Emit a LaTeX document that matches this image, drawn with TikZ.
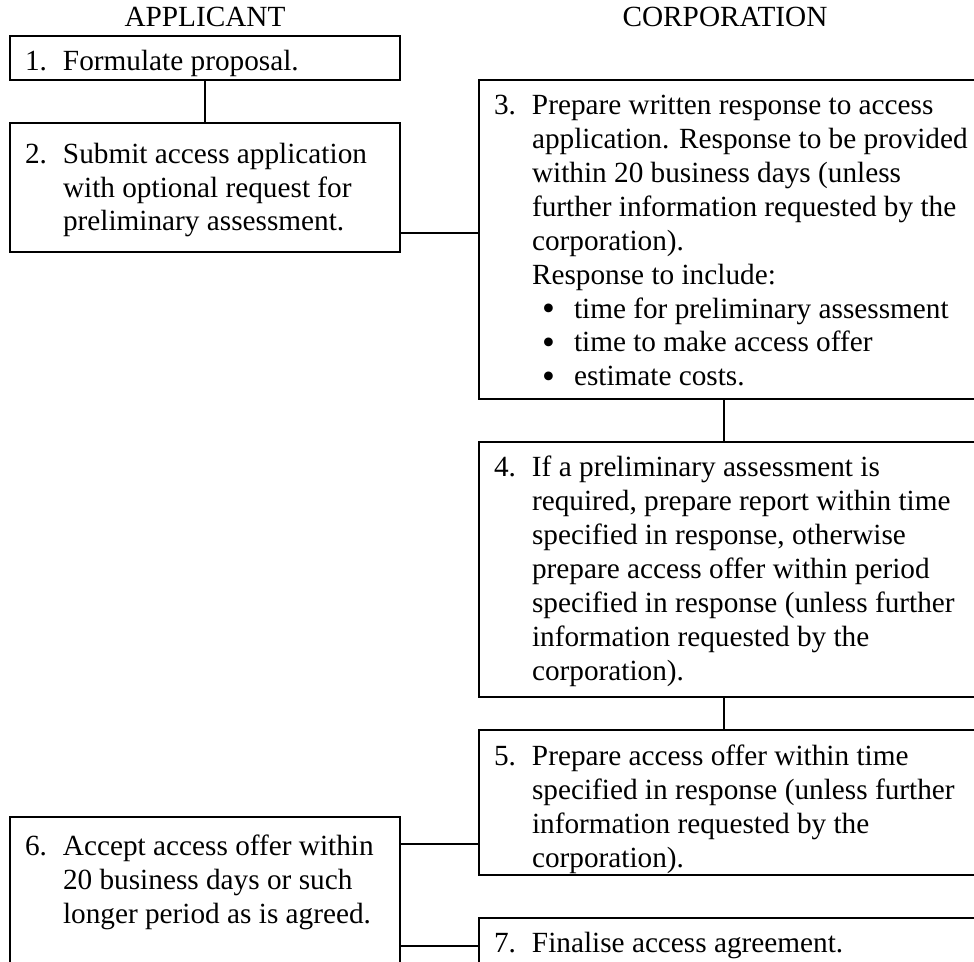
\documentclass[tikz,border=0pt]{standalone}
\usepackage{fontspec}
\setmainfont{Liberation Serif}
\usepackage{tikz}
\newlength{\pxu}
\setlength{\pxu}{0.41pt}
\newcommand{\boxtext}[5]{\parbox[c][#2\pxu][t]{#1\pxu}{\hspace*{15\pxu}\makebox[38\pxu][l]{\rule{0pt}{#3\pxu}#4}\parbox[t]{\dimexpr#1\pxu-60\pxu\relax}{#5}}}
\newcommand{\bulletline}[1]{\hspace*{10\pxu}\makebox[32\pxu][l]{\smash{\raisebox{-0.9pt}{\scalebox{1.25}{\textbullet}}}}#1}
\tikzstyle{heading} = [anchor=base, inner sep=0pt]
\tikzstyle{stage} = [draw, line width=0.8pt, anchor=north west, inner sep=0pt, outer sep=0pt]
\tikzstyle{link} = [line width=0.8pt]

\begin{document}
\begin{tikzpicture}[x=0.41pt, y=-0.41pt, font=\fontsize{12pt}{13.94pt}\selectfont]
    \useasboundingbox (0,0) rectangle (974,961);
    \clip (0,0) rectangle (974,961);

    \node [heading] at (205,27) (applicant) {APPLICANT};
    \node [heading] at (725,27) (corporation) {CORPORATION};

    \node [stage] at (10,36) (formulate) {\boxtext{390}{43.6}{34}{1.}{Formulate proposal.}};
    \node [stage] at (10,123) (submit) {\boxtext{390}{129}{40}{2.}{Submit access application\\with optional request for\\preliminary assessment.}};
    \node [stage] at (479,80) (respond) {\boxtext{510}{319}{34}{3.}{Prepare written response to access\\application. Response to be provided\\within 20 business days (unless\\further information requested by the\\corporation).\\Response to include:\\\bulletline{time for preliminary assessment}\\\bulletline{time to make access offer}\\\bulletline{estimate costs.}}};
    \node [stage] at (479,442) (assess) {\boxtext{510}{255}{34}{4.}{If a preliminary assessment is\\required, prepare report within time\\specified in response, otherwise\\prepare access offer within period\\specified in response (unless further\\information requested by the\\corporation).}};
    \node [stage] at (479,730) (offer) {\boxtext{510}{145}{35}{5.}{Prepare access offer within time\\specified in response (unless further\\information requested by the\\corporation).}};
    \node [stage] at (10,817) (accept) {\boxtext{390}{200}{38}{6.}{Accept access offer within\\20 business days or such\\longer period as is agreed.}};
    \node [stage] at (479,918) (finalise) {\boxtext{510}{100}{34}{7.}{Finalise access agreement.}};

    \coordinate (spine) at (724,0);
    \coordinate (j23) at (440,233);
    \coordinate (j65) at (440,844);
    \coordinate (j67) at (440,946);

    \draw [link] (formulate) -- (submit);
    \draw [link] (submit.east |- j23) -- (respond.west |- j23);
    \draw [link] (respond.south -| spine) -- (assess.north -| spine);
    \draw [link] (assess.south -| spine) -- (offer.north -| spine);
    \draw [link] (accept.east |- j65) -- (offer.west |- j65);
    \draw [link] (accept.east |- j67) -- (finalise.west |- j67);
\end{tikzpicture}
\end{document}
